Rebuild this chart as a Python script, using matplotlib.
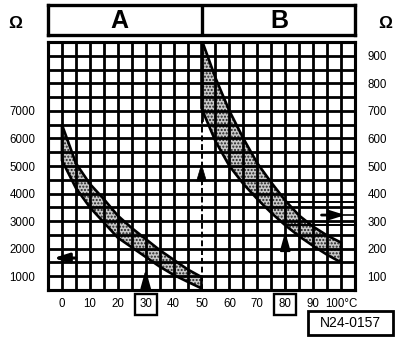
import numpy as np
import matplotlib
matplotlib.use("Agg")
import matplotlib.pyplot as plt
from matplotlib.patches import Rectangle

plt.rcParams['font.family'] = ['Liberation Sans', 'DejaVu Sans']
plt.rcParams['hatch.linewidth'] = 1.0

# band A: 0..50 degC, left scale (Ohm)
T_A = [0, 5, 10, 15, 20, 25, 30, 35, 40, 45, 50]
A_low = [5200, 4200, 3500, 2950, 2400, 2050, 1700, 1350, 1050, 800, 560]
A_high = [6500, 5100, 4350, 3800, 3200, 2750, 2350, 1950, 1600, 1250, 970]

# band B: 50..100 degC, right scale (Ohm)
T_B = [50, 55, 60, 65, 70, 75, 80, 85, 90, 95, 100]
B_low = [710, 590, 500, 435, 380, 330, 285, 245, 210, 178, 150]
B_high = [960, 820, 700, 600, 510, 440, 375, 320, 280, 248, 222]

left_ticks = [1000, 2000, 3000, 4000, 5000, 6000, 7000]
right_ticks = [100, 200, 300, 400, 500, 600, 700, 800, 900]
x_ticks = [0, 10, 20, 30, 40, 50, 60, 70, 80, 90, 100]
x_labels = ['0', '10', '20', '30', '40', '50', '60', '70', '80', '90', '100°C']

# example readings
check_A = (30, 1660)
check_B = (80, 322)

fig = plt.figure(figsize=(4.16, 3.44), dpi=100)
ax = fig.add_axes([48/416, 1-290/344, 307/416, 248/344])
ax2 = ax.twinx()
ax.set_zorder(ax2.get_zorder() + 1)
ax.patch.set_visible(False)

ax.set_xlim(-5, 105)
ax.set_ylim(500, 9500)
ax2.set_ylim(50, 950)

def band(a, t, lo, hi):
    xs = np.concatenate([t, t[::-1]])
    ys = np.concatenate([hi, lo[::-1]])
    a.fill(xs, ys, facecolor='#c8c8c8', edgecolor='#202020', hatch='.....', lw=0, zorder=1)
    a.fill(xs, ys, facecolor='none', edgecolor='black', lw=1.9, zorder=2)

band(ax, np.array(T_A), np.array(A_low), np.array(A_high))
band(ax2, np.array(T_B), np.array(B_low), np.array(B_high))

# grid
gw = 2.0
ax.set_xticks(x_ticks)
ax.set_xticklabels(x_labels)
ax.set_yticks(left_ticks)
ax.set_yticks(np.arange(500, 9501, 500), minor=True)
ax.grid(which='both', axis='y', color='black', lw=gw, zorder=3)
for gx in np.arange(0, 105, 5):
    if gx != 50:
        ax.axvline(gx, color='black', lw=gw, zorder=3)
# 50 degC line: solid on top, dashed marker below
ax.plot([50, 50], [6670, 9500], color='black', lw=gw, zorder=3)
ax.plot([50, 50], [500, 6670], color='black', lw=1.4, ls=(0, (3, 1.5)), zorder=4)
ax.annotate('', xy=(50, 5100), xytext=(50, 4300),
            arrowprops=dict(arrowstyle='-|>,head_length=0.85,head_width=0.25',
                            color='black', lw=0.5, mutation_scale=14, shrinkA=0, shrinkB=0), zorder=4)

ax.tick_params(which='both', length=0)
ax.tick_params(axis='x', pad=6, labelsize=8.3)
ax.tick_params(axis='y', pad=9, labelsize=8.3)
ax2.set_yticks(right_ticks)
ax2.tick_params(length=0, pad=9, labelsize=8.3)
for a in (ax, ax2):
    for s in a.spines.values():
        s.set_linewidth(2.2)

# boxed tick labels
for lab in ax.get_xticklabels():
    if lab.get_text() in ('30', '80'):
        lab.set_bbox(dict(boxstyle='square,pad=0.4', fc='white', ec='black', lw=1.7))

# arrows for 30 degC
t, r = check_A
ax.annotate('', xy=(t, 1250), xytext=(t, 500),
            arrowprops=dict(arrowstyle='-|>,head_length=0.8,head_width=0.22',
                            color='black', lw=1.5, mutation_scale=14, shrinkA=0, shrinkB=0), zorder=4)
ax.annotate('', xy=(-3, r), xytext=(5, r),
            arrowprops=dict(arrowstyle='-|>,head_length=0.7,head_width=0.22',
                            color='black', lw=2.2, mutation_scale=13, shrinkA=0, shrinkB=0), zorder=4)

# arrows for 80 degC
t, r = check_B
ax2.annotate('', xy=(t, 262), xytext=(t, 50),
             arrowprops=dict(arrowstyle='-|>,head_length=0.8,head_width=0.22',
                             color='black', lw=1.5, mutation_scale=14, shrinkA=0, shrinkB=0))
ax2.plot([80.5, 105], [368, 368], color='black', lw=1.4)
ax2.plot([80, 105], [285, 285], color='black', lw=1.4)
ax2.plot([93, 105], [r, r], color='black', lw=1.2)
ax2.annotate('', xy=(101.5, r), xytext=(93, r),
             arrowprops=dict(arrowstyle='-|>,head_length=0.7,head_width=0.22',
                             color='black', lw=2.0, mutation_scale=13, shrinkA=0, shrinkB=0))

# header box with A / B
hx = fig.add_axes([48/416, 1-35/344, 307/416, 30/344])
hx.set_xlim(-5, 105)
hx.set_ylim(0, 1)
hx.set_xticks([])
hx.set_yticks([])
for s in hx.spines.values():
    s.set_linewidth(2.4)
hx.axvline(50, color='black', lw=2.4)
hx.text(20.5, 0.47, 'A', ha='center', va='center', fontsize=18, fontweight='bold')
hx.text(78, 0.47, 'B', ha='center', va='center', fontsize=18, fontweight='bold')

fig.text(15/416, 1-23/344, 'Ω', ha='center', va='center', fontsize=12.5, fontweight='bold')
fig.text(385/416, 1-23/344, 'Ω', ha='center', va='center', fontsize=12.5, fontweight='bold')

fig.patches.append(Rectangle((308/416, 1-335/344), 85/416, 24/344, transform=fig.transFigure,
                             fill=False, ec='black', lw=2))
fig.text(350.5/416, 1-323/344, 'N24-0157', ha='center', va='center', fontsize=10)

fig.savefig('out.png', dpi=100)
